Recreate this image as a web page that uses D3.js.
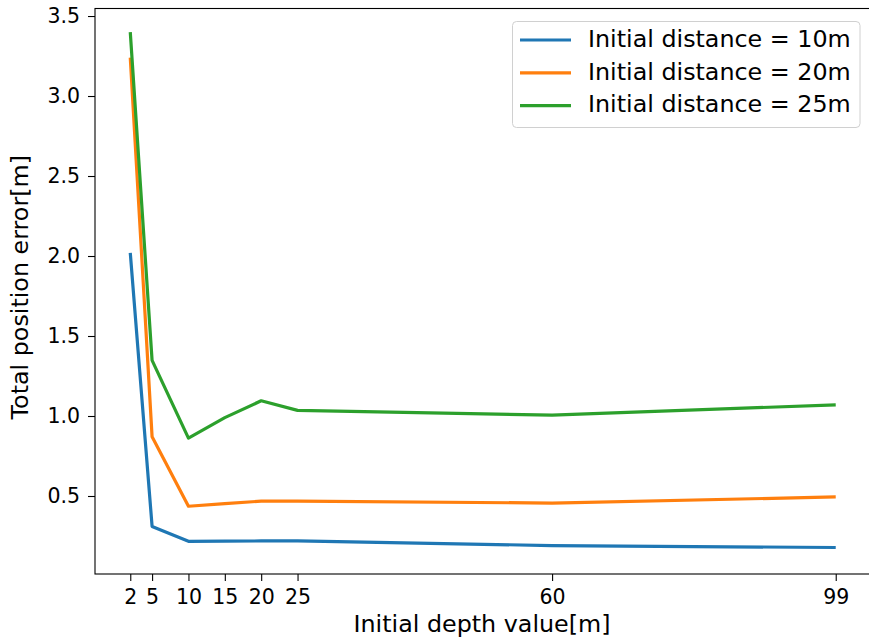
<!DOCTYPE html>
<html>
<head>
<meta charset="utf-8">
<script src="https://cdn.jsdelivr.net/npm/d3@7"></script>
<style>
  html, body { margin: 0; padding: 0; background: #fff; }
  svg { display: block; font-family: "DejaVu Sans", sans-serif; }
</style>
</head>
<body>
<svg id="chart" width="869" height="642"></svg>
<script>
const depths = [2, 5, 10, 15, 20, 25, 60, 99];
const xTicks = [2, 5, 10, 15, 20, 25, 60, 99];
const yTicks = [0.5, 1.0, 1.5, 2.0, 2.5, 3.0, 3.5];
const seriesNames = ["Initial distance = 10m", "Initial distance = 20m", "Initial distance = 25m"];
const dist10 = [2.02, 0.31, 0.217, 0.218, 0.219, 0.22, 0.19, 0.178];
const dist20 = [3.24, 0.87, 0.436, 0.452, 0.468, 0.468, 0.456, 0.494];
const dist25 = [3.40, 1.348, 0.862, 0.99, 1.095, 1.035, 1.005, 1.07];
const colors = ["#1f77b4", "#ff7f0e", "#2ca02c"];

const series = [dist10, dist20, dist25];

const svg = d3.select("#chart");
const mLeft = 95, mRight = 871, mTop = 8.5, mBottom = 574;
const tickFont = 20.5, labelFont = 23.8;

const x = d3.scaleLinear().domain([-2.85, 103.85]).range([mLeft, mRight]);
const y = d3.scaleLinear().domain([0.0125, 3.547]).range([mBottom, mTop]);

// lines
const line = d3.line().x((d, i) => x(depths[i])).y(d => y(d));
series.forEach((s, k) => {
  svg.append("path")
    .datum(s)
    .attr("d", line)
    .attr("fill", "none")
    .attr("stroke", colors[k])
    .attr("stroke-width", 3.2)
    .attr("stroke-linejoin", "round");
});

// axes
const xAxis = d3.axisBottom(x).tickValues(xTicks).tickFormat(d3.format("d")).tickSize(7).tickPadding(8);
const yAxis = d3.axisLeft(y).tickValues(yTicks).tickFormat(d3.format(".1f")).tickSize(7).tickPadding(8);

const gx = svg.append("g").attr("transform", `translate(0,${mBottom})`).call(xAxis);
const gy = svg.append("g").attr("transform", `translate(${mLeft},0)`).call(yAxis);
[gx, gy].forEach(g => {
  g.select(".domain").remove();
  g.attr("font-size", null).attr("font-family", null);
  g.selectAll(".tick line").attr("stroke", "#000").attr("stroke-width", 1.1);
  g.selectAll(".tick text").attr("fill", "#000")
    .style("font-size", tickFont + "px").style("font-family", "'DejaVu Sans', sans-serif");
});

// spines
svg.append("rect")
  .attr("x", mLeft).attr("y", mTop)
  .attr("width", mRight - mLeft).attr("height", mBottom - mTop)
  .attr("fill", "none").attr("stroke", "#000").attr("stroke-width", 1.1);

// axis labels
svg.append("text")
  .attr("x", 482).attr("y", 632)
  .attr("text-anchor", "middle").style("font-size", labelFont + "px").attr("fill", "#000")
  .text("Initial depth value[m]");
svg.append("text")
  .attr("transform", `translate(28,${(mTop + mBottom) / 2 - 4}) rotate(-90)`)
  .attr("text-anchor", "middle").style("font-size", labelFont + "px").attr("fill", "#000")
  .text("Total position error[m]");

// legend
const lg = svg.append("g");
lg.append("rect")
  .attr("x", 512.5).attr("y", 21.5).attr("width", 347.5).attr("height", 106)
  .attr("rx", 4).attr("fill", "#fff").attr("fill-opacity", 0.8)
  .attr("stroke", "#d0d0d0").attr("stroke-width", 1);
seriesNames.forEach((name, k) => {
  const yy = 40 + k * 32.8;
  lg.append("line")
    .attr("x1", 520).attr("x2", 571).attr("y1", yy).attr("y2", yy)
    .attr("stroke", colors[k]).attr("stroke-width", 3.2);
  lg.append("text")
    .attr("x", 588).attr("y", yy + 6.7)
    .style("font-size", labelFont + "px").attr("fill", "#000")
    .text(name);
});
</script>
</body>
</html>
